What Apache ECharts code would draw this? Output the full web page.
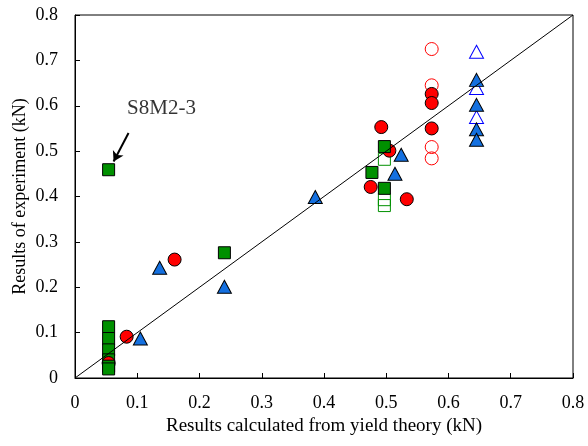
<!DOCTYPE html>
<html>
<head>
<meta charset="utf-8">
<script src="https://cdn.jsdelivr.net/npm/echarts@6/dist/echarts.min.js"></script>
<style>html,body{margin:0;padding:0;background:#fff}#c{width:588px;height:446px}</style>
</head>
<body>
<div id="c"></div>
<script>
const xTickLabels = ['0','0.1','0.2','0.3','0.4','0.5','0.6','0.7','0.8'];
const yTickLabels = ['0','0.1','0.2','0.3','0.4','0.5','0.6','0.7','0.8'];

const greenOpen = [[0.497,0.482],[0.497,0.393],[0.497,0.380]];
const redOpen = [[0.573,0.725],[0.573,0.645],[0.573,0.509],[0.573,0.484]];
const blueOpen = [[0.645,0.719],[0.645,0.639],[0.645,0.575]];
const redFilled = [[0.083,0.091],[0.160,0.261],[0.492,0.553],[0.505,0.501],[0.475,0.421],[0.533,0.394],[0.573,0.626],[0.573,0.606],[0.573,0.550]];
const blueFilled = [[0.105,0.087],[0.136,0.243],[0.240,0.201],[0.386,0.399],[0.524,0.492],[0.514,0.450],[0.645,0.657],[0.645,0.602],[0.645,0.548],[0.645,0.525]];
const greenFilledA = [[0.054,0.113],[0.054,0.087],[0.054,0.062],[0.054,0.040],[0.054,0.459],[0.240,0.276],[0.497,0.510],[0.477,0.453],[0.497,0.418]];
const redHidden = [[0.054,0.033]];
const greenFilledB = [[0.054,0.026],[0.054,0.020]];
const diagonal = [[0,0],[0.8,0.8]];
const arrowFrom = [0.086,0.540];
const arrowTo = [0.062,0.477];
const annotation = {text:'S8M2-3', at:[0.139,0.593]};

const FONT = 'Liberation Serif';
const GREEN = '#009000', RED = '#FF0000', BLUE = '#1470E0';

function sc(data, symbol, size, color, border) {
  return {
    type:'scatter', data, symbol, symbolSize:size,
    itemStyle:{color, borderColor:border, borderWidth:1, opacity:1},
    emphasis:{disabled:true}, silent:true
  };
}

const chart = echarts.init(document.getElementById('c'), null, {renderer:'canvas'});
chart.setOption({
  animation:false,
  grid:{left:75,right:15,top:15,bottom:68,show:true,borderColor:'#000',borderWidth:1,backgroundColor:'transparent'},
  xAxis:{type:'value',min:0,max:0.8,interval:0.1,
    name:'Results calculated from yield theory (kN)',nameLocation:'middle',nameGap:39,nameMoveOverlap:false,
    nameTextStyle:{fontFamily:FONT,fontSize:19,color:'#000'},
    axisLine:{lineStyle:{color:'#000',width:1}},
    axisTick:{inside:true,length:5,lineStyle:{color:'#000'}},
    axisLabel:{fontFamily:FONT,fontSize:18,color:'#000',margin:16,
      formatter:(v)=>xTickLabels[Math.round(v*10)]},
    splitLine:{show:false}},
  yAxis:{type:'value',min:0,max:0.8,interval:0.1,
    name:'Results of experiment (kN)',nameLocation:'middle',nameGap:46,nameMoveOverlap:false,
    nameTextStyle:{fontFamily:FONT,fontSize:18,color:'#000'},
    axisLine:{lineStyle:{color:'#000',width:1}},
    axisTick:{inside:true,length:5,lineStyle:{color:'#000'}},
    axisLabel:{fontFamily:FONT,fontSize:18,color:'#000',margin:17,
      formatter:(v)=>yTickLabels[Math.round(v*10)]},
    splitLine:{show:false}},
  series:[
    sc(greenOpen,'rect',12,'transparent',GREEN),
    sc(redOpen,'circle',13,'transparent',RED),
    sc(blueOpen,'triangle',[14,13],'transparent','#0000FF'),
    sc(redFilled,'circle',13,RED,'#000'),
    sc(blueFilled,'triangle',[14,13],BLUE,'#000'),
    sc(greenFilledA,'rect',12,GREEN,'#000'),
    sc(redHidden,'circle',13,RED,'#000'),
    sc(greenFilledB,'rect',12,GREEN,'#000'),
    {type:'line',data:diagonal,symbol:'none',z:10,silent:true,
      lineStyle:{color:'#000',width:1}},
    {type:'scatter',data:[annotation.at],symbolSize:0,silent:true,z:11,
      label:{show:true,position:'inside',formatter:annotation.text,
        fontFamily:FONT,fontSize:21,color:'#000'},
      markLine:{silent:true,symbol:['none','arrow'],symbolSize:[9,10],
        label:{show:false},
        lineStyle:{color:'#000',width:2,type:'solid'},
        data:[[{coord:arrowFrom},{coord:arrowTo}]]}}
  ]
});
</script>
</body>
</html>
